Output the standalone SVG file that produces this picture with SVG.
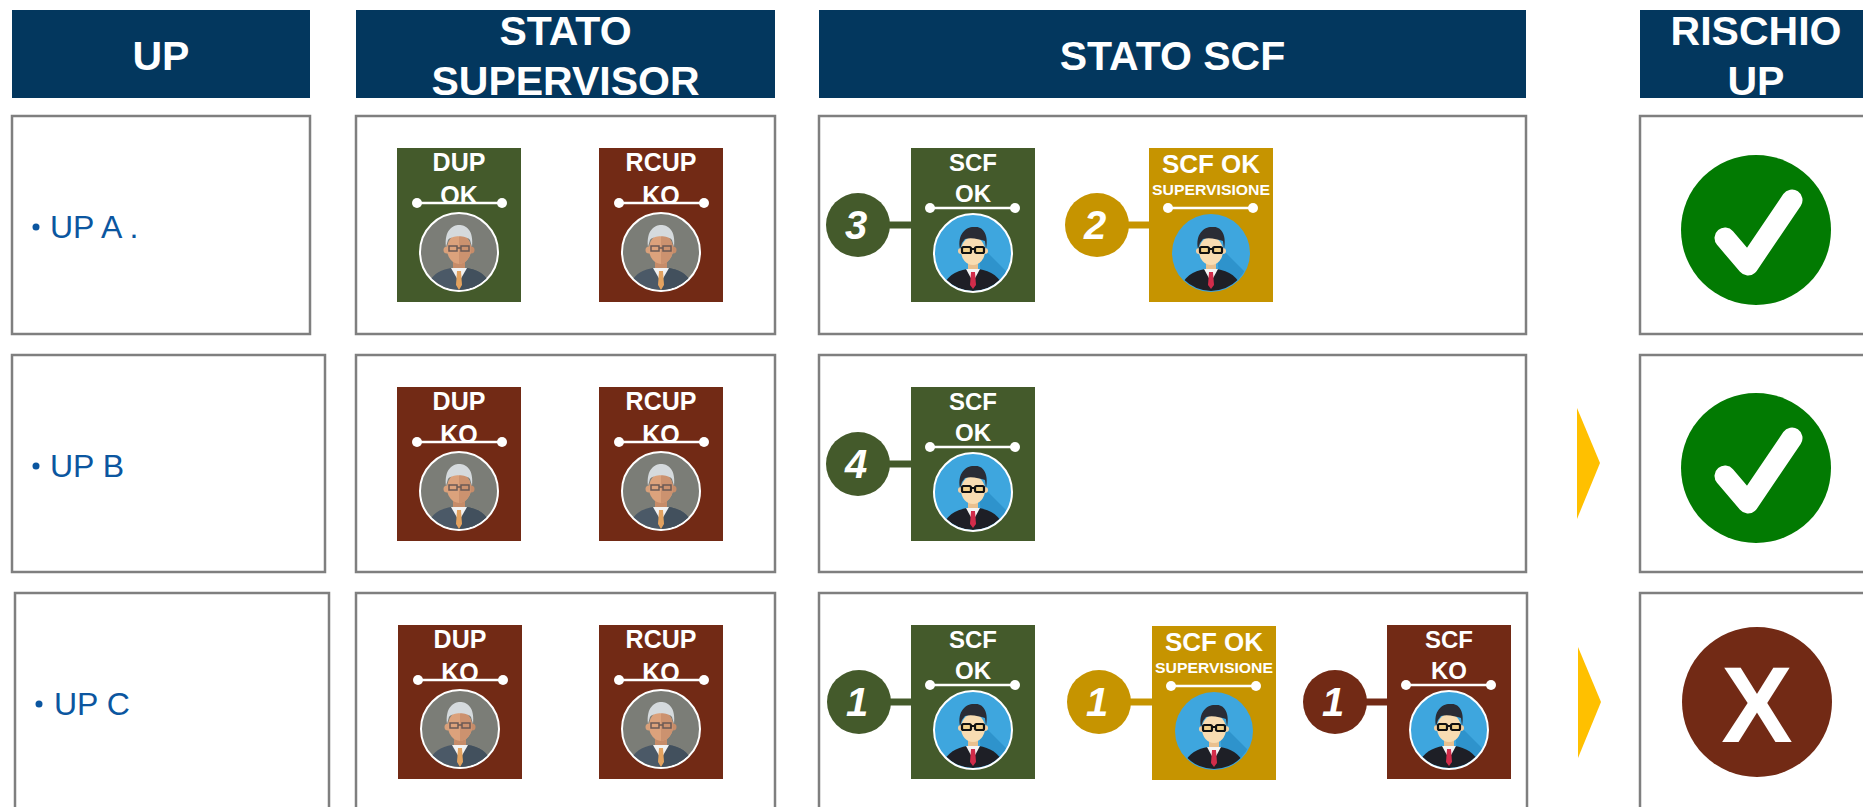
<svg xmlns="http://www.w3.org/2000/svg" width="1863" height="807" viewBox="0 0 1863 807">
<style>
.hdr{fill:#03375e}
.hdrt{font-family:"Liberation Sans",Arial,sans-serif;font-weight:bold;font-size:41px;fill:#fff;text-anchor:middle}
.box{fill:#fff;stroke:#7f7f7f;stroke-width:2.5}
.lbl{font-family:"Liberation Sans",Arial,sans-serif;font-size:32px;fill:#0b56a0}
.ct{font-family:"Liberation Sans",Arial,sans-serif;font-weight:bold;fill:#fff;text-anchor:middle}
.num{font-family:"Liberation Sans",Arial,sans-serif;font-weight:bold;font-style:italic;font-size:40px;fill:#fff;text-anchor:middle}
.g{fill:#445a2b}.b{fill:#722a15}.y{fill:#c69400}
.wl{stroke:#fff;stroke-width:2.5}
.lg{stroke:#445a2b;stroke-width:7}.lb{stroke:#722a15;stroke-width:7}.ly{stroke:#c69400;stroke-width:7}
.arr{fill:#ffc000}
</style>
<defs>
<clipPath id="cav"><circle cx="0" cy="0" r="38"/></clipPath>
<g id="oldman">
<circle r="39" fill="#7b7d77" stroke="#fff" stroke-width="2"/>
<g clip-path="url(#cav)">
<path d="M-32,40 C-31,24 -20,18 -8,16 L8,16 C20,18 31,24 32,40 Z" fill="#4b5967"/>
<path d="M0,16 L8,16 C20,18 31,24 32,40 L0,40 Z" fill="#42505d"/>
<rect x="-6" y="6" width="12" height="12" fill="#c68c69"/>
<polygon points="-8,16 0,30 8,16" fill="#f2f2f2"/>
<polygon points="-2,19 2,19 3,33 0,38 -3,33" fill="#e3a25f"/>
<circle cx="-12" cy="-2" r="3.5" fill="#d9a07a"/>
<circle cx="12" cy="-2" r="3.5" fill="#c68c69"/>
<ellipse cx="0" cy="-3" rx="12" ry="15" fill="#dca27c"/>
<path d="M0,-18 A12,15 0 0 1 0,12 Z" fill="#cc926f"/>
<path d="M-13,-5 C-15,-22 -6,-27 0,-27 C7,-27 15,-22 13,-5 L11,-12 C7,-17 -7,-17 -11,-12 Z" fill="#d5dadd"/>
<rect x="-10" y="-6" width="8" height="5" fill="none" stroke="#6b5a55" stroke-width="1.5"/>
<rect x="2" y="-6" width="8" height="5" fill="none" stroke="#6b5a55" stroke-width="1.5"/>
<line x1="-2" y1="-4" x2="2" y2="-4" stroke="#6b5a55" stroke-width="1.5"/>
</g>
</g>
<g id="young">
<circle r="39" fill="#3ea6de"/>
<g clip-path="url(#cav)">
<path d="M5,-10 L45,30 L45,45 L10,45 Z" fill="#2e93cc"/>
<path d="M-32,40 C-29,24 -18,18 -6,16 L6,16 C18,18 29,24 32,40 Z" fill="#1e1f26"/>
<rect x="-5" y="6" width="10" height="12" fill="#e9c08f"/>
<polygon points="-7,16 0,29 7,16" fill="#f5f5f5"/>
<polygon points="-2,19 2,19 3,32 0,36 -3,32" fill="#d22c4a"/>
<circle cx="-12" cy="-2" r="3" fill="#f3d0a4"/>
<circle cx="12" cy="-2" r="3" fill="#f3d0a4"/>
<ellipse cx="0" cy="-2" rx="12" ry="14" fill="#f8dcb2"/>
<path d="M-13,-4 C-16,-20 -6,-27 2,-26 C10,-27 16,-18 13,-4 L12,-12 C6,-14 -2,-16 -8,-14 L-11,-10 Z" fill="#2a2c35"/>
<rect x="-11" y="-6" width="9" height="6" rx="1.5" fill="#f2d08a" stroke="#111" stroke-width="2.2"/>
<rect x="2" y="-6" width="9" height="6" rx="1.5" fill="#f2d08a" stroke="#111" stroke-width="2.2"/>
<line x1="-2" y1="-4" x2="2" y2="-4" stroke="#111" stroke-width="2"/>
</g>
</g>
<g id="wline">
<line x1="0" y1="0" x2="85" y2="0" class="wl"/>
<circle cx="0" cy="0" r="5" fill="#fff"/>
<circle cx="85" cy="0" r="5" fill="#fff"/>
</g>
<g id="check">
<circle r="75" fill="#027a02"/>
<polyline points="-31,8 -8,35 36,-30" fill="none" stroke="#fff" stroke-width="21" stroke-linecap="round" stroke-linejoin="round"/>
</g>
</defs>

<g id="headers">
<rect class="hdr" x="12" y="10" width="298" height="88"/>
<text class="hdrt" x="161" y="70" font-size="42">UP</text>
<rect class="hdr" x="356" y="10" width="419" height="88"/>
<text class="hdrt" x="565.5" y="45">STATO</text>
<text class="hdrt" x="565.5" y="95">SUPERVISOR</text>
<rect class="hdr" x="819" y="10" width="707" height="88"/>
<text class="hdrt" x="1172.5" y="70">STATO SCF</text>
<rect class="hdr" x="1640" y="10" width="230" height="88"/>
<text class="hdrt" x="1756" y="45">RISCHIO</text>
<text class="hdrt" x="1756" y="95">UP</text>
</g>

<g id="row-boxes">
<rect class="box" x="12" y="116" width="298" height="218"/>
<rect class="box" x="356" y="116" width="419" height="218"/>
<rect class="box" x="819" y="116" width="707" height="218"/>
<rect class="box" x="1640" y="116" width="240" height="218"/>
<rect class="box" x="12" y="355" width="313" height="217"/>
<rect class="box" x="356" y="355" width="419" height="217"/>
<rect class="box" x="819" y="355" width="707" height="217"/>
<rect class="box" x="1640" y="355" width="240" height="217"/>
<rect class="box" x="15" y="593" width="314" height="230"/>
<rect class="box" x="356" y="593" width="419" height="230"/>
<rect class="box" x="819" y="593" width="708" height="230"/>
<rect class="box" x="1640" y="593" width="240" height="230"/>
</g>

<g id="up-a"><circle cx="36" cy="227" r="3.5" fill="#0b56a0"/><text class="lbl" x="50" y="238">UP A .</text></g>
<g id="up-b"><circle cx="36" cy="466" r="3.5" fill="#0b56a0"/><text class="lbl" x="50" y="477">UP B</text></g>
<g id="up-c"><circle cx="39" cy="704" r="3.5" fill="#0b56a0"/><text class="lbl" x="54" y="715">UP C</text></g>

<g id="sup-a-dup" transform="translate(397,148)">
<rect class="g" width="124" height="154"/>
<text class="ct" x="62" y="23" font-size="25">DUP</text><text class="ct" x="62" y="56" font-size="25">OK</text>
<use href="#wline" x="20" y="55"/><use href="#oldman" x="62" y="104"/>
</g>
<g id="sup-a-rcup" transform="translate(599,148)">
<rect class="b" width="124" height="154"/>
<text class="ct" x="62" y="23" font-size="25">RCUP</text><text class="ct" x="62" y="56" font-size="25">KO</text>
<use href="#wline" x="20" y="55"/><use href="#oldman" x="62" y="104"/>
</g>
<g id="sup-b-dup" transform="translate(397,387)">
<rect class="b" width="124" height="154"/>
<text class="ct" x="62" y="23" font-size="25">DUP</text><text class="ct" x="62" y="56" font-size="25">KO</text>
<use href="#wline" x="20" y="55"/><use href="#oldman" x="62" y="104"/>
</g>
<g id="sup-b-rcup" transform="translate(599,387)">
<rect class="b" width="124" height="154"/>
<text class="ct" x="62" y="23" font-size="25">RCUP</text><text class="ct" x="62" y="56" font-size="25">KO</text>
<use href="#wline" x="20" y="55"/><use href="#oldman" x="62" y="104"/>
</g>
<g id="sup-c-dup" transform="translate(398,625)">
<rect class="b" width="124" height="154"/>
<text class="ct" x="62" y="23" font-size="25">DUP</text><text class="ct" x="62" y="56" font-size="25">KO</text>
<use href="#wline" x="20" y="55"/><use href="#oldman" x="62" y="104"/>
</g>
<g id="sup-c-rcup" transform="translate(599,625)">
<rect class="b" width="124" height="154"/>
<text class="ct" x="62" y="23" font-size="25">RCUP</text><text class="ct" x="62" y="56" font-size="25">KO</text>
<use href="#wline" x="20" y="55"/><use href="#oldman" x="62" y="104"/>
</g>

<g id="connectors">
<line class="lg" x1="880" y1="225" x2="911" y2="225"/>
<line class="ly" x1="1120" y1="225" x2="1149" y2="225"/>
<line class="lg" x1="880" y1="464" x2="911" y2="464"/>
<line class="lg" x1="881" y1="702" x2="911" y2="702"/>
<line class="ly" x1="1121" y1="702" x2="1152" y2="702"/>
<line class="lb" x1="1357" y1="702" x2="1387" y2="702"/>
<polygon class="arr" points="1577,408 1600,463 1577,519"/>
<polygon class="arr" points="1578,647 1601,702 1578,758"/>
</g>

<g id="scf-a-ok">
<circle class="g" cx="858" cy="225" r="32"/><text class="num" x="856" y="239">3</text>
<g transform="translate(911,148)">
<rect class="g" width="124" height="154"/>
<text class="ct" x="62" y="23" font-size="24">SCF</text><text class="ct" x="62" y="54" font-size="24">OK</text>
<use href="#wline" x="19" y="60"/><use href="#young" x="62" y="105"/><circle cx="62" cy="105" r="39" fill="none" stroke="#fff" stroke-width="2"/>
</g>
</g>
<g id="scf-a-sup">
<circle class="y" cx="1097" cy="225" r="32"/><text class="num" x="1095" y="239">2</text>
<g transform="translate(1149,148)">
<rect class="y" width="124" height="154"/>
<text class="ct" x="62" y="25" font-size="26">SCF OK</text><text class="ct" x="62" y="47" font-size="15.5" textLength="118" lengthAdjust="spacingAndGlyphs">SUPERVISIONE</text>
<use href="#wline" x="19" y="60"/><use href="#young" x="62" y="105"/>
</g>
</g>
<g id="scf-b-ok">
<circle class="g" cx="858" cy="464" r="32"/><text class="num" x="856" y="478">4</text>
<g transform="translate(911,387)">
<rect class="g" width="124" height="154"/>
<text class="ct" x="62" y="23" font-size="24">SCF</text><text class="ct" x="62" y="54" font-size="24">OK</text>
<use href="#wline" x="19" y="60"/><use href="#young" x="62" y="105"/><circle cx="62" cy="105" r="39" fill="none" stroke="#fff" stroke-width="2"/>
</g>
</g>
<g id="scf-c-ok">
<circle class="g" cx="859" cy="702" r="32"/><text class="num" x="857" y="716">1</text>
<g transform="translate(911,625)">
<rect class="g" width="124" height="154"/>
<text class="ct" x="62" y="23" font-size="24">SCF</text><text class="ct" x="62" y="54" font-size="24">OK</text>
<use href="#wline" x="19" y="60"/><use href="#young" x="62" y="105"/><circle cx="62" cy="105" r="39" fill="none" stroke="#fff" stroke-width="2"/>
</g>
</g>
<g id="scf-c-sup">
<circle class="y" cx="1099" cy="702" r="32"/><text class="num" x="1097" y="716">1</text>
<g transform="translate(1152,626)">
<rect class="y" width="124" height="154"/>
<text class="ct" x="62" y="25" font-size="26">SCF OK</text><text class="ct" x="62" y="47" font-size="15.5" textLength="118" lengthAdjust="spacingAndGlyphs">SUPERVISIONE</text>
<use href="#wline" x="19" y="60"/><use href="#young" x="62" y="105"/>
</g>
</g>
<g id="scf-c-ko">
<circle class="b" cx="1335" cy="702" r="32"/><text class="num" x="1333" y="716">1</text>
<g transform="translate(1387,625)">
<rect class="b" width="124" height="154"/>
<text class="ct" x="62" y="23" font-size="24">SCF</text><text class="ct" x="62" y="54" font-size="24">KO</text>
<use href="#wline" x="19" y="60"/><use href="#young" x="62" y="105"/><circle cx="62" cy="105" r="39" fill="none" stroke="#fff" stroke-width="2"/>
</g>
</g>

<g id="risk-a"><use href="#check" x="1756" y="230"/></g>
<g id="risk-b"><use href="#check" x="1756" y="468"/></g>
<g id="risk-c">
<circle cx="1757" cy="702" r="75" fill="#722a15"/>
<text class="ct" x="1757" y="742" font-size="107">X</text>
</g>
</svg>
